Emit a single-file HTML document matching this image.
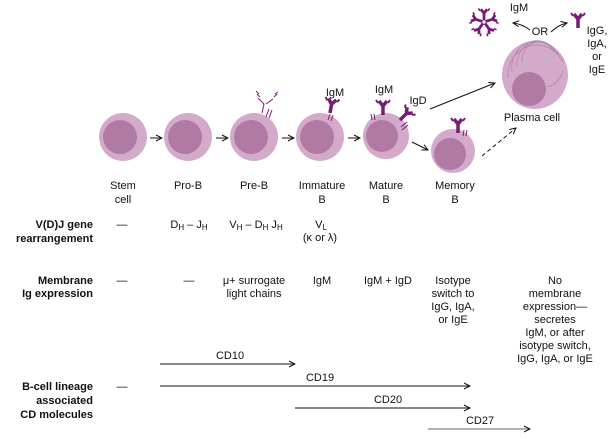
<!DOCTYPE html>
<html><head><meta charset="utf-8"><style>
html,body{margin:0;padding:0;background:#fff}
svg text{font-family:"Liberation Sans",sans-serif;font-size:11px;fill:#111}
.b{font-weight:bold}
</style></head><body>
<svg width="611" height="434" viewBox="0 0 611 434" xmlns="http://www.w3.org/2000/svg">
<defs>
<marker id="a" markerWidth="8" markerHeight="8" refX="7" refY="4" orient="auto" markerUnits="userSpaceOnUse"><path d="M1,1 L7,4 L1,7" fill="none" stroke="#111" stroke-width="1"/></marker>
<g id="ab"><path d="M0,0 L0,-9 M0,-9 L-4,-14 M0,-9 L4,-14" stroke="#7a1a78" stroke-width="3.5" fill="none"/><path d="M-5,-12 L-7,-15 M5,-12 L7,-15" stroke="#7a1a78" stroke-width="2"/></g>
</defs>
<g fill="#d4aacb"><circle cx="123" cy="137" r="24"/><circle cx="188" cy="137" r="24"/><circle cx="254" cy="137" r="24"/><circle cx="320" cy="137" r="24"/><circle cx="386" cy="136" r="23"/><circle cx="453" cy="151" r="22"/><ellipse cx="535" cy="75" rx="33" ry="34"/></g>
<g fill="#b07aa5"><circle cx="120" cy="137" r="17"/><circle cx="185" cy="137" r="17"/><circle cx="251" cy="137" r="17"/><circle cx="317" cy="137" r="17"/><circle cx="382" cy="136" r="16"/><circle cx="450" cy="154" r="16"/><circle cx="529" cy="89" r="17"/></g>
<g fill="none" stroke="#b483ad" stroke-width="0.8"><path d="M508,78 A29,30 0 0 1 563,62"/><path d="M512,72 A25,27 0 0 1 560,58"/><path d="M517,67 A21,23 0 0 1 557,55"/><path d="M522,62 A17,19 0 0 1 554,52"/><path d="M547,87 A20,22 0 0 0 563,70"/></g>
<g stroke="#111" stroke-width="1" fill="none" marker-end="url(#a)">
<line x1="150" y1="138" x2="162" y2="138"/><line x1="216" y1="138" x2="228" y2="138"/><line x1="282" y1="138" x2="294" y2="138"/><line x1="348" y1="138" x2="360" y2="138"/>
<line x1="412" y1="142" x2="428" y2="150"/><line x1="430" y1="109" x2="495" y2="83"/>
<line x1="482" y1="156" x2="516" y2="128" stroke-dasharray="4,3"/>
<path d="M530,30 Q522,24 513,23"/><path d="M551,32 Q558,25 567,23"/>
<line x1="160" y1="364" x2="295" y2="364"/><line x1="160" y1="386" x2="470" y2="386"/><line x1="295" y1="408" x2="470" y2="408"/><line x1="428" y1="429" x2="530" y2="429" stroke="#666"/>
</g>
<g stroke="#7a1a78" stroke-width="1" fill="none"><path d="M262,113 L264,104 L258,98 M266,104 L273,99 M260,97 L257,94 M274,97 L277,94"/><path d="M259,94 L256,91 M275,94 L278,92"/><path d="M266,117 L269,109 M269,118 L272,110"/>
<path d="M328,120 L330,114 M331,121 L333,115"/><path d="M372,120 L371,114 M375,120 L374,114"/><path d="M401,127 L407,122 M402,130 L408,125"/><path d="M463,136 L464,130 M466,136 L467,130"/></g>
<use href="#ab" transform="translate(330,113) rotate(10)"/>
<use href="#ab" transform="translate(383,115)"/>
<use href="#ab" transform="translate(400,120) rotate(45)"/>
<use href="#ab" transform="translate(458,133)"/>
<use href="#ab" transform="translate(578,28)"/>
<g transform="translate(484,22) scale(0.8)"><use href="#ab" transform="rotate(0) translate(0,-2)"/><use href="#ab" transform="rotate(72) translate(0,-2)"/><use href="#ab" transform="rotate(144) translate(0,-2)"/><use href="#ab" transform="rotate(216) translate(0,-2)"/><use href="#ab" transform="rotate(288) translate(0,-2)"/></g>
<g text-anchor="middle">
<text x="335" y="96">IgM</text><text x="384" y="93">IgM</text><text x="418" y="104">IgD</text>
<text x="519" y="11">IgM</text><text x="540" y="35">OR</text>
<text x="597" y="34">IgG,</text><text x="597" y="47">IgA,</text><text x="597" y="60">or</text><text x="597" y="73">IgE</text>
<text x="532" y="121">Plasma cell</text>
<text x="123" y="189">Stem</text><text x="123" y="203">cell</text>
<text x="188" y="189">Pro-B</text><text x="254" y="189">Pre-B</text>
<text x="322" y="189">Immature</text><text x="322" y="203">B</text>
<text x="386" y="189">Mature</text><text x="386" y="203">B</text>
<text x="455" y="189">Memory</text><text x="455" y="203">B</text>
<text x="122" y="228">—</text>
<text x="189" y="228">D<tspan font-size="8" dy="2">H</tspan><tspan dy="-2"> – J</tspan><tspan font-size="8" dy="2">H</tspan></text>
<text x="256" y="228">V<tspan font-size="8" dy="2">H</tspan><tspan dy="-2"> – D</tspan><tspan font-size="8" dy="2">H</tspan><tspan dy="-2"> J</tspan><tspan font-size="8" dy="2">H</tspan></text>
<text x="321" y="228">V<tspan font-size="8" dy="2">L</tspan></text>
<text x="320" y="241" font-size="10">(κ or λ)</text>
<text x="122" y="284">—</text><text x="189" y="284">—</text>
<text x="254" y="284">μ+ surrogate</text><text x="254" y="297">light chains</text>
<text x="322" y="284">IgM</text><text x="388" y="284">IgM + IgD</text>
<text x="453" y="284">Isotype</text><text x="453" y="297">switch to</text><text x="453" y="310">IgG, IgA,</text><text x="453" y="323">or IgE</text>
<text x="555" y="284">No</text><text x="555" y="297">membrane</text><text x="555" y="310">expression—</text><text x="555" y="323">secretes</text><text x="555" y="336">IgM, or after</text><text x="555" y="349">isotype switch,</text><text x="555" y="362">IgG, IgA, or IgE</text>
<text x="230" y="359">CD10</text><text x="320" y="381">CD19</text><text x="388" y="403">CD20</text><text x="480" y="424">CD27</text>
<text x="122" y="390">—</text>
</g>
<g text-anchor="end">
<text x="93" y="228" class="b">V(D)J gene</text><text x="93" y="242" class="b">rearrangement</text>
<text x="93" y="284" class="b">Membrane</text><text x="93" y="297" class="b">Ig expression</text>
<text x="93" y="390" class="b">B-cell lineage</text><text x="93" y="404" class="b">associated</text><text x="93" y="418" class="b">CD molecules</text>
</g>
</svg>
</body></html>
